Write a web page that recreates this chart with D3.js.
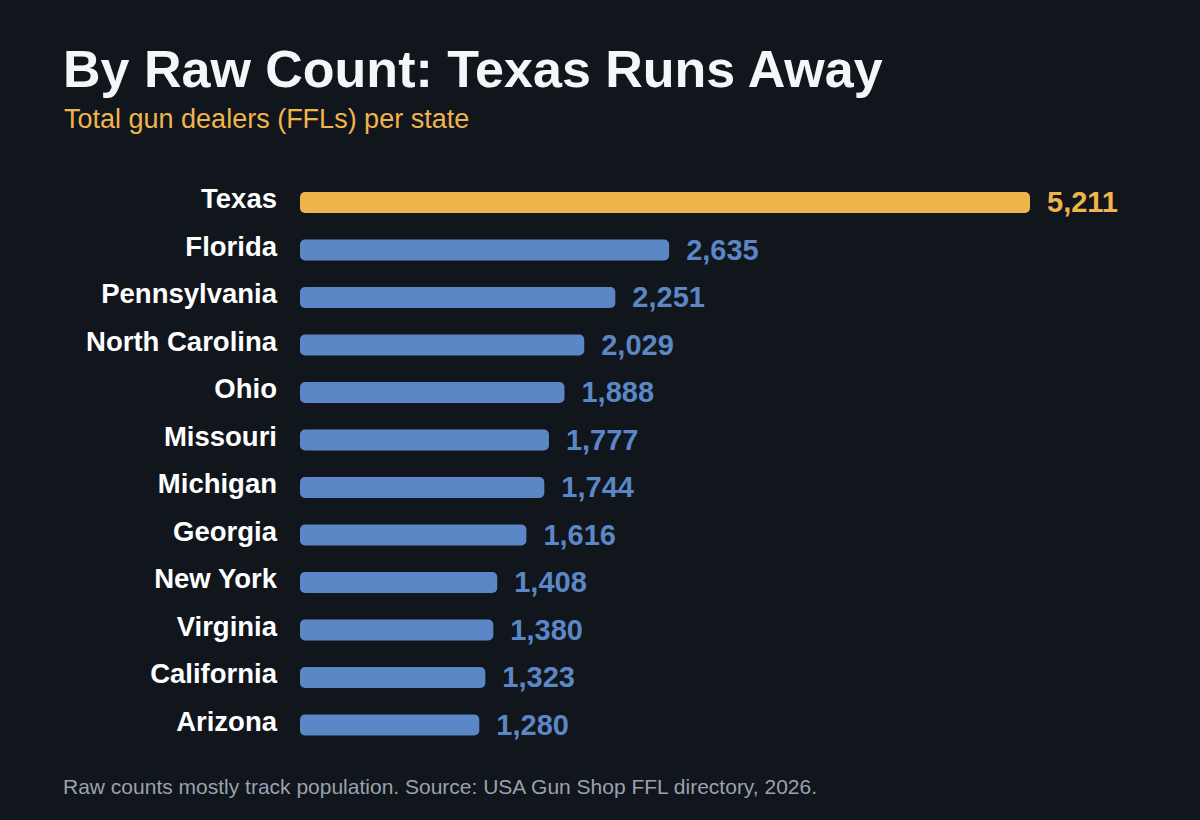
<!DOCTYPE html>
<html>
<head>
<meta charset="utf-8">
<script src="https://cdn.jsdelivr.net/npm/d3@7"></script>
<style>
  html, body { margin: 0; padding: 0; background: #11151c; }
  svg { display: block; font-family: "Liberation Sans", Arial, sans-serif; }
</style>
</head>
<body>
<svg id="chart" width="1200" height="820"></svg>
<script>
// data
var states = ['Texas', 'Florida', 'Pennsylvania', 'North Carolina', 'Ohio', 'Missouri',
              'Michigan', 'Georgia', 'New York', 'Virginia', 'California', 'Arizona'];
var dealers = [5211, 2635, 2251, 2029, 1888, 1777, 1744, 1616, 1408, 1380, 1323, 1280];
var highlight = ['Texas'];

var bg = '#11151c';
var orange = '#f0b44c';
var blue = '#5b87c6';

var svg = d3.select('#chart');
svg.append('rect').attr('width', 1200).attr('height', 820).attr('fill', bg);

var rows = states.map(function (s, i) { return { state: s, value: dealers[i] }; });

var x = d3.scaleLinear()
    .domain([0, d3.max(dealers)])
    .range([300, 1030]);

var y = d3.scaleBand()
    .domain(states)
    .range([178.75, 748.75]);

var barH = 21;
var fmt = d3.format(',');

function colorOf(d) {
    return highlight.indexOf(d.state) >= 0 ? orange : blue;
}

// title + subtitle
svg.append('text')
    .attr('x', 63).attr('y', 87)
    .attr('fill', '#f5f6fa')
    .attr('font-size', 52).attr('font-weight', 'bold')
    .text('By Raw Count: Texas Runs Away');

svg.append('text')
    .attr('x', 64).attr('y', 128)
    .attr('fill', orange)
    .attr('font-size', 27)
    .text('Total gun dealers (FFLs) per state');

var g = svg.append('g');

var row = g.selectAll('g.row')
    .data(rows)
    .enter().append('g')
    .attr('class', 'row');

row.append('rect')
    .attr('x', x(0))
    .attr('y', function (d) { return y(d.state) + y.bandwidth() / 2 - barH / 2; })
    .attr('width', function (d) { return x(d.value) - x(0); })
    .attr('height', barH)
    .attr('rx', 5)
    .attr('fill', colorOf);

row.append('text')
    .attr('x', 277)
    .attr('y', function (d) { return y(d.state) + y.bandwidth() / 2 + 5.5; })
    .attr('text-anchor', 'end')
    .attr('fill', '#ffffff')
    .attr('font-size', 27.5).attr('font-weight', 'bold')
    .text(function (d) { return d.state; });

row.append('text')
    .attr('x', function (d) { return x(d.value) + 17; })
    .attr('y', function (d) { return y(d.state) + y.bandwidth() / 2 + 9.5; })
    .attr('fill', colorOf)
    .attr('font-size', 29).attr('font-weight', 'bold')
    .text(function (d) { return fmt(d.value); });

// footer
svg.append('text')
    .attr('x', 63).attr('y', 794)
    .attr('fill', '#9aa2ad')
    .attr('font-size', 21)
    .text('Raw counts mostly track population. Source: USA Gun Shop FFL directory, 2026.');
</script>
</body>
</html>
